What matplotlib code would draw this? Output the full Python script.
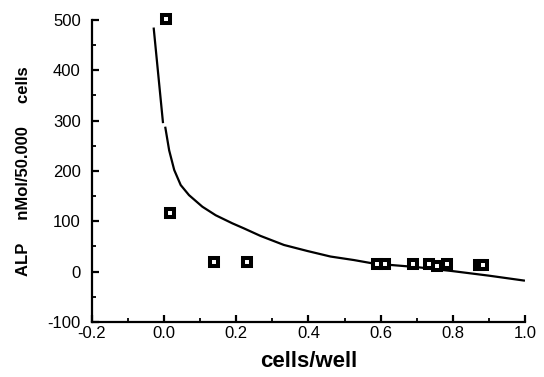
import matplotlib
matplotlib.use('Agg')
import matplotlib.pyplot as plt
from matplotlib.ticker import MultipleLocator

plt.rcParams['font.family'] = ['Liberation Sans', 'DejaVu Sans']
plt.rcParams['axes.unicode_minus'] = False

# measured points (cells/well, ALP)
pts_x = [0.004, 0.016, 0.138, 0.229, 0.590, 0.613, 0.691, 0.735, 0.757, 0.784, 0.873, 0.885]
pts_y = [501, 117, 20, 20, 15, 15, 15, 15, 11, 15, 13, 13]

# fitted curve, drawn in two pieces (small gap near x=0)
curve1_x = [-0.029, -0.016, -0.003]
curve1_y = [485, 390, 295]
curve2_x = [0.003, 0.014, 0.028, 0.046, 0.069, 0.106, 0.143, 0.189, 0.221, 0.267,
            0.332, 0.397, 0.461, 0.526, 0.581, 0.7, 0.8, 0.9, 1.0]
curve2_y = [288, 241, 202, 172, 152, 129, 112, 96, 86, 71,
            53, 41, 30, 23, 16, 9, 1, -8, -18]

fig = plt.figure(figsize=(5.44, 3.77), dpi=100)
ax = fig.add_axes([0.169, 0.146, 0.796, 0.801])

ax.plot(curve1_x, curve1_y, color='black', lw=1.6, solid_capstyle='butt')
ax.plot(curve2_x, curve2_y, color='black', lw=1.6, solid_capstyle='butt',
        solid_joinstyle='round')
ax.plot(pts_x, pts_y, 's', ms=6.3, mfc='white', mec='black', mew=2.9, ls='none',
        clip_on=False, zorder=3)

ax.set_xlim(-0.2, 1.0)
ax.set_ylim(-100, 500)
ax.xaxis.set_major_locator(MultipleLocator(0.2))
ax.xaxis.set_minor_locator(MultipleLocator(0.1))
ax.yaxis.set_major_locator(MultipleLocator(100))
ax.yaxis.set_minor_locator(MultipleLocator(50))
ax.set_xticks([-0.2, 0.0, 0.2, 0.4, 0.6, 0.8, 1.0])
ax.set_xticklabels(['-0.2', '0.0', '0.2', '0.4', '0.6', '0.8', '1.0'])

for s in ['top', 'right']:
    ax.spines[s].set_visible(False)
for s in ['left', 'bottom']:
    ax.spines[s].set_linewidth(1.6)

ax.tick_params(which='major', direction='in', length=5, width=1.6, labelsize=12)
ax.tick_params(which='minor', direction='in', length=3, width=1.3)
ax.tick_params(axis='x', which='major', pad=3)
ax.tick_params(axis='y', which='major', pad=8)

ax.set_xlabel('cells/well', fontsize=16, fontweight='bold', labelpad=7)
ax.set_ylabel('ALP     nMol/50.000     cells', fontsize=12, fontweight='bold', labelpad=12)

fig.savefig('out.png', dpi=100)
